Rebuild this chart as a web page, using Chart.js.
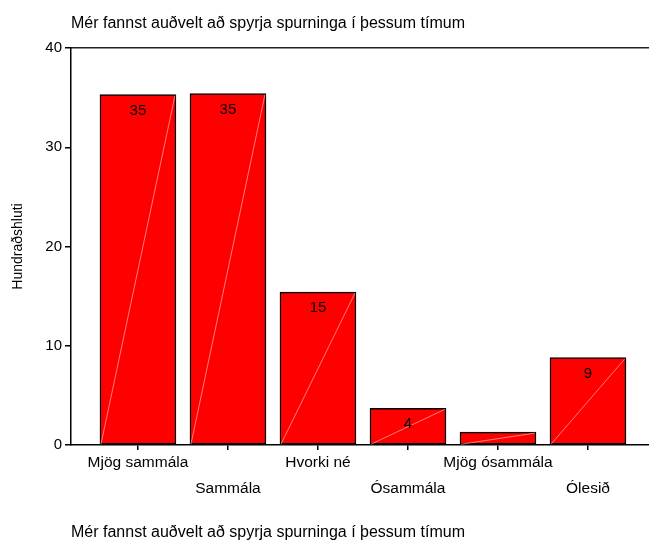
<!DOCTYPE html>
<html>
<head>
<meta charset="utf-8">
<script src="https://cdn.jsdelivr.net/npm/chart.js@4"></script>
<style>
html,body{margin:0;padding:0;background:#fff;}
#wrap{width:649px;height:543px;}
</style>
</head>
<body>
<div id="wrap"><canvas id="c" width="649" height="543"></canvas></div>
<script>
const titleText = 'Mér fannst auðvelt að spyrja spurninga í þessum tímum';
const yTitle = 'Hundraðshluti';
const categories = ['Mjög sammála', 'Sammála', 'Hvorki né', 'Ósammála', 'Mjög ósammála', 'Ólesið'];
const percentages = [35.3, 35.4, 15.4, 3.7, 1.3, 8.8];
const yTicks = [0, 10, 20, 30, 40];

const FONT = '"Liberation Sans", Arial, sans-serif';

const barPoints = percentages.map((v, i) => ({x: i, y: v}));
const valueLabels = percentages.map(v => v >= 2 ? String(Math.round(v)) : null);

const decor = {
  id: 'decor',
  afterDatasetsDraw(chart) {
    const ctx = chart.ctx;
    const meta = chart.getDatasetMeta(0);
    ctx.save();
    meta.data.forEach((bar, i) => {
      const p = bar.getProps(['x', 'y', 'base', 'width'], true);
      const l = p.x - p.width / 2 + 1, r = p.x + p.width / 2 - 1;
      ctx.beginPath();
      ctx.moveTo(l, p.base);
      ctx.lineTo(r, p.y + 1);
      ctx.strokeStyle = 'rgba(255,210,210,0.75)';
      ctx.lineWidth = 0.8;
      ctx.stroke();
      if (valueLabels[i] !== null) {
        ctx.fillStyle = '#000';
        ctx.font = '15px ' + FONT;
        ctx.textAlign = 'center';
        ctx.textBaseline = 'middle';
        ctx.fillText(valueLabels[i], p.x, p.y + 16);
      }
    });
    ctx.restore();
  }
};

new Chart(document.getElementById('c'), {
  type: 'bar',
  data: {
    datasets: [{
      data: barPoints,
      backgroundColor: '#ff0000',
      borderColor: '#000',
      borderWidth: 1.5,
      borderSkipped: false,
      barThickness: 76
    }]
  },
  options: {
    responsive: false,
    devicePixelRatio: 1,
    animation: false,
    layout: {padding: 0},
    plugins: {
      legend: {display: false},
      tooltip: {enabled: false},
      title: {
        display: true, text: titleText, align: 'start', fullSize: false,
        color: '#000', font: {family: FONT, size: 16, weight: 'normal', lineHeight: 1.2},
        padding: {top: 14, bottom: 14.8}
      },
      subtitle: {
        display: true, text: titleText, position: 'bottom', align: 'start', fullSize: false,
        color: '#000', font: {family: FONT, size: 16, weight: 'normal', lineHeight: 1.2},
        padding: {top: 21, bottom: 0.8}
      }
    },
    scales: {
      x: {
        type: 'linear',
        position: 'bottom',
        offset: false,
        min: -0.744,
        max: 5.678,
        afterBuildTicks(scale) { scale.ticks = categories.map((c, i) => ({value: i})); },
        afterFit(scale) { scale.height = 57; },
        ticks: {
          autoSkip: false, maxRotation: 0, padding: 0, color: '#000',
          font: {family: FONT, size: 15.5, lineHeight: '26px'},
          callback(value) {
            const i = Math.round(value);
            return i % 2 === 0 ? [categories[i], ''] : ['', categories[i]];
          }
        },
        grid: {offset: false, drawOnChartArea: false, drawTicks: true, tickLength: 5, color: '#000', lineWidth: 1.5},
        border: {display: true, color: '#000', width: 1.5}
      },
      x2: {
        type: 'linear',
        axis: 'x',
        position: 'top',
        display: true,
        offset: false,
        afterFit(scale) { scale.height = 0; },
        ticks: {display: false},
        grid: {display: false, drawTicks: false},
        border: {display: true, color: '#222', width: 1.5}
      },
      y: {
        type: 'linear',
        min: 0, max: 40,
        afterBuildTicks(scale) { scale.ticks = yTicks.map(v => ({value: v})); },
        afterFit(scale) { scale.width = 71; },
        ticks: {color: '#000', padding: 3, font: {family: FONT, size: 15}},
        grid: {drawOnChartArea: false, drawTicks: true, tickLength: 6, color: '#000', lineWidth: 1.5},
        border: {display: true, color: '#000', width: 1.5},
        title: {
          display: true, text: yTitle, color: '#000',
          font: {family: FONT, size: 14, lineHeight: 1.2},
          padding: {top: 10, bottom: 0}
        }
      }
    }
  },
  plugins: [decor]
});
</script>
</body>
</html>
